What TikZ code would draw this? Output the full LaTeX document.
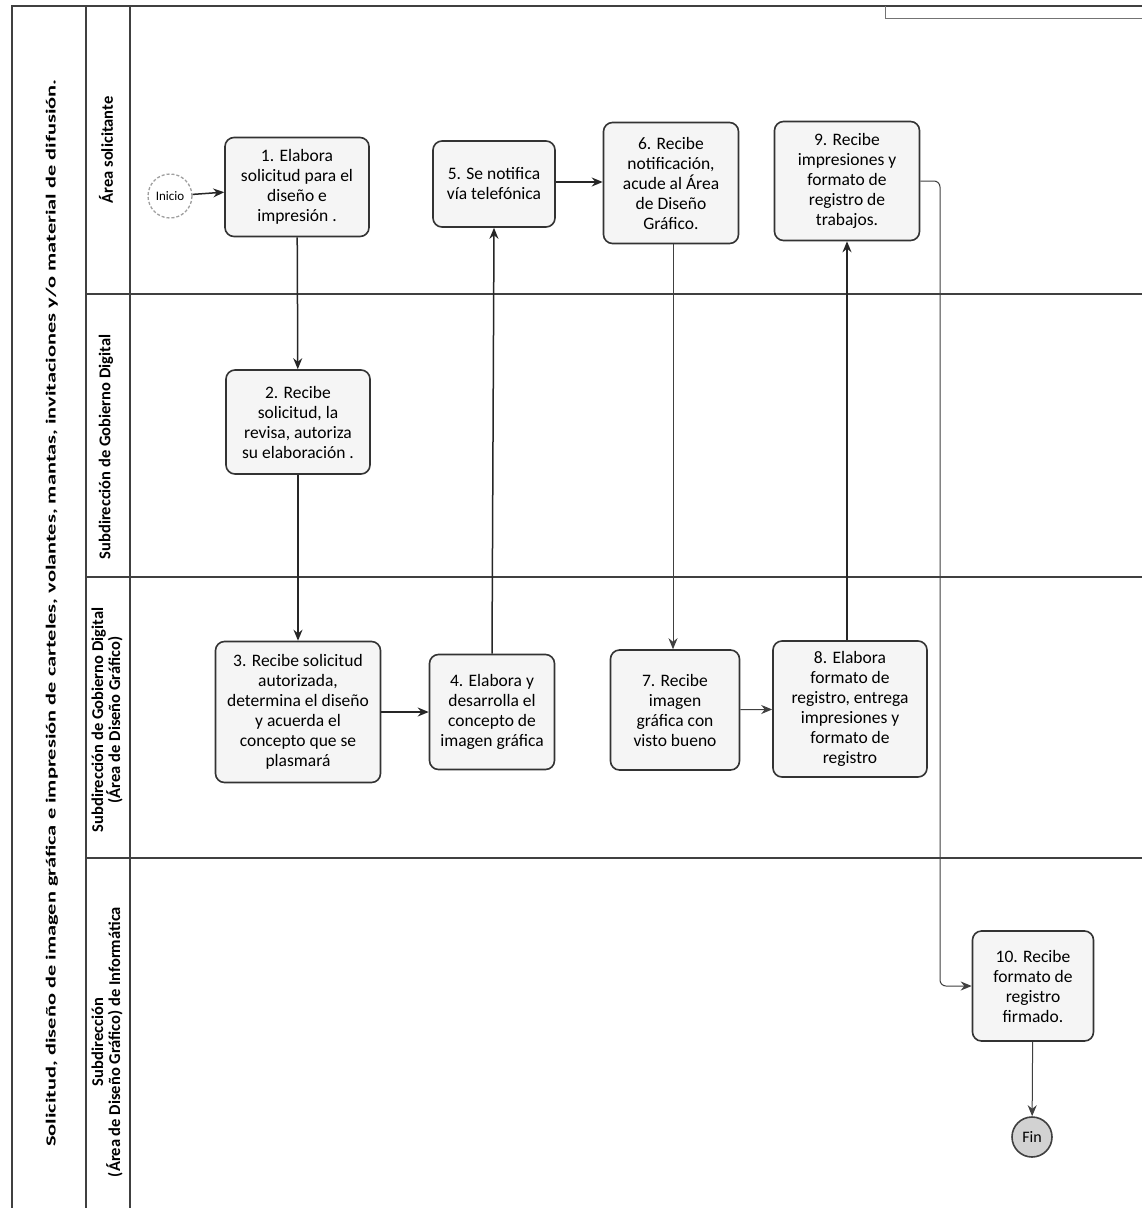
\documentclass[tikz,border=0pt]{standalone}
\usepackage{fontspec}
\usepackage{graphicx}
\setmainfont{Carlito}
\usetikzlibrary{arrows.meta}

\tikzset{
  stepbox/.style={rectangle, rounded corners=9pt, draw=black!80, line width=1.6pt,
    fill=gray!8, align=center, inner sep=2pt,
    font=\fontsize{17.5}{20}\selectfont},
  startev/.style={circle, draw=gray!75, densely dashed, line width=1.3pt, fill=white,
    minimum size=44pt, inner sep=0pt, font=\fontsize{13}{15}\selectfont},
  endev/.style={circle, draw=black!75, line width=1.6pt, fill=gray!35,
    minimum size=40pt, inner sep=0pt, font=\fontsize{16}{18}\selectfont},
  lanetext/.style={rotate=90, align=center, font=\bfseries\fontsize{16.5}{17}\selectfont},
  frameline/.style={draw=black!75, line width=1.4pt},
  flow/.style={draw=black!85, line width=1.5pt, -{Stealth[length=11pt,width=9pt]}},
  thinflow/.style={draw=black!75, line width=1pt, -{Stealth[length=11pt,width=9pt]}},
}

\begin{document}
\begin{tikzpicture}[x=1pt,y=-1pt]
\useasboundingbox (0,0) rectangle (1142,1208);
\fill[white] (0,0) rectangle (1142,1208);

% pool frame and lane separators
\draw[frameline] (12,1208) -- (12,6) -- (1142,6);
\draw[frameline] (86,6) -- (86,1208);
\draw[frameline] (130,6) -- (130,1208);
\draw[frameline] (86,294) -- (1142,294);
\draw[frameline] (86,577) -- (1142,577);
\draw[frameline] (86,858) -- (1142,858);

% corner of a neighbouring shape
\draw[draw=black!55, line width=1pt] (885,6) -- (885,18) -- (1142,18);

% pool title
\node[rotate=90, font=\bfseries\fontsize{14}{16}\selectfont] (title) at (52,613)
  {\scalebox{1.6}[1]{Solicitud, diseño de imagen gráfica e impresión de carteles, volantes, mantas, invitaciones y/o material de difusión.}};

% lane titles
\node[lanetext] (lane1) at (106,150) {Área solicitante};
\node[lanetext] (lane2) at (106,447) {Subdirección de Gobierno Digital};
\node[lanetext] (lane3) at (107,720) {Subdirección de Gobierno Digital\\(Área de Diseño Gráfico)};
\node[lanetext] (lane4) at (107,1042) {Subdirección\\(Área de Diseño Gráfico) de Informática};

% events
\node[startev] (ini) at (170,196) {Inicio};
\node[endev] (fin) at (1032,1137) {Fin};

% tasks
\node[stepbox, minimum width=144pt, minimum height=99pt] (t1) at (297,187)
  {1. Elabora\\solicitud para el\\diseño e\\impresión .};
\node[stepbox, minimum width=144pt, minimum height=104pt] (t2) at (298,422)
  {2. Recibe\\solicitud, la\\revisa, autoriza\\su elaboración .};
\node[stepbox, minimum width=165pt, minimum height=141pt] (t3) at (298,712)
  {3. Recibe solicitud\\autorizada,\\determina el diseño\\y acuerda el\\concepto que se\\plasmará};
\node[stepbox, minimum width=125pt, minimum height=115pt] (t4) at (492,712)
  {4. Elabora y\\desarrolla el\\concepto de\\imagen gráfica};
\node[stepbox, minimum width=122pt, minimum height=86pt] (t5) at (494,184)
  {5. Se notifica\\vía telefónica};
\node[stepbox, minimum width=135pt, minimum height=121pt] (t6) at (671,183)
  {6. Recibe\\notificación,\\acude al Área\\de Diseño\\Gráfico.};
\node[stepbox, minimum width=129pt, minimum height=120pt] (t7) at (675,710)
  {7. Recibe\\imagen\\gráfica con\\visto bueno};
\node[stepbox, minimum width=154pt, minimum height=136pt] (t8) at (850,709)
  {8. Elabora\\formato de\\registro, entrega\\impresiones y\\formato de\\registro};
\node[stepbox, minimum width=145pt, minimum height=119pt] (t9) at (847,181)
  {9. Recibe\\impresiones y\\formato de\\registro de\\trabajos.};
\node[stepbox, minimum width=121pt, minimum height=110pt] (t10) at (1033,986)
  {10. Recibe\\formato de\\registro\\firmado.};

% sequence flows
\draw[flow] (ini) -- (t1);
\draw[flow] (t1) -- (t2);
\draw[flow] (t2) -- (t3);
\draw[flow] (t3) -- (t4);
\draw[flow] (t4.north) -- (t5.south);
\draw[flow] (t5.east |- 0,182) -- (t6.west |- 0,182);
\draw[thinflow] (t6.south -| 673,0) -- (t7.north -| 673,0);
\draw[thinflow] (t7) -- (t8);
\draw[flow] (t8.north -| 847,0) -- (t9.south -| 847,0);
\coordinate (bendtop) at (940,181);
\coordinate (bendbot) at (940,986);
\draw[thinflow, rounded corners=6pt] (t9.east) -- (bendtop) -- (bendbot) -- (t10.west);
\draw[thinflow] (t10) -- (fin);

\end{tikzpicture}
\end{document}
